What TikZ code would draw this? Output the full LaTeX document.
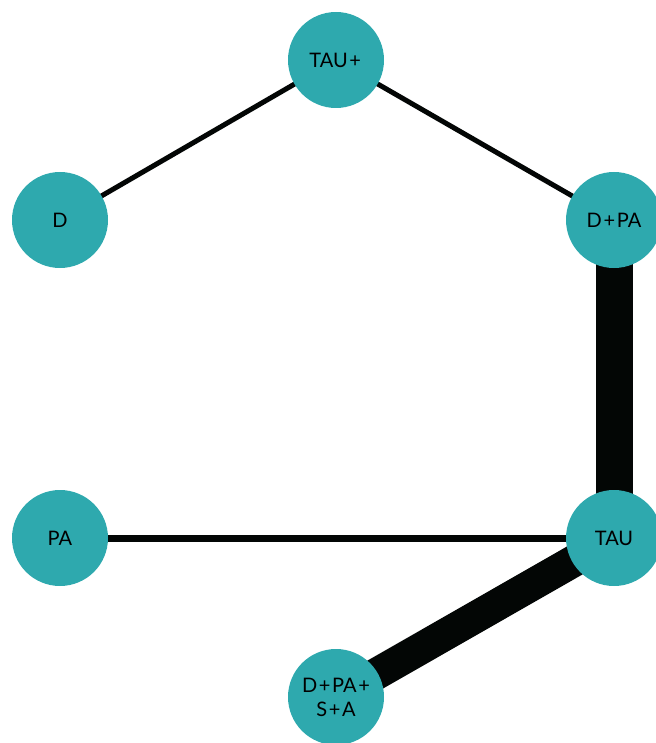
\documentclass[tikz,border=0pt]{standalone}
\usepackage{fontspec}
\setmainfont{Lato}
\usetikzlibrary{backgrounds}
\definecolor{teal}{HTML}{2EA9AE}
\definecolor{edgeblack}{HTML}{030605}
\newcommand{\pl}{\hspace{1.6pt}+\hspace{1.6pt}}
\begin{document}
\begin{tikzpicture}[x=1pt,y=-1pt,
  trt/.style={circle,fill=teal,minimum size=96pt,inner sep=0pt,align=center,
    font=\fontsize{20}{24}\selectfont,text=black},
  link/.style={draw=edgeblack,line cap=butt}]
\useasboundingbox (0,0) rectangle (655,743);
\node[trt] (taup) at (336,60) {TAU\pl};
\node[trt] (d) at (60,220) {D};
\node[trt] (dpa) at (614,220) {D\pl PA};
\node[trt] (pa) at (60,538) {PA};
\node[trt] (tau) at (614,538) {TAU};
\node[trt] (dpasa) at (336,697) {D\pl PA\pl\\S\pl A};
\begin{scope}[on background layer]
\draw[link,line width=5pt] (d.center) -- (taup.center);
\draw[link,line width=5pt] (taup.center) -- (dpa.center);
\draw[link,line width=7pt] (pa.center) -- (tau.center);
\draw[link,line width=37pt] (dpa.center) -- (tau.center);
\draw[link,line width=32pt] (tau.center) -- (dpasa.center);
\end{scope}
\end{tikzpicture}
\end{document}
